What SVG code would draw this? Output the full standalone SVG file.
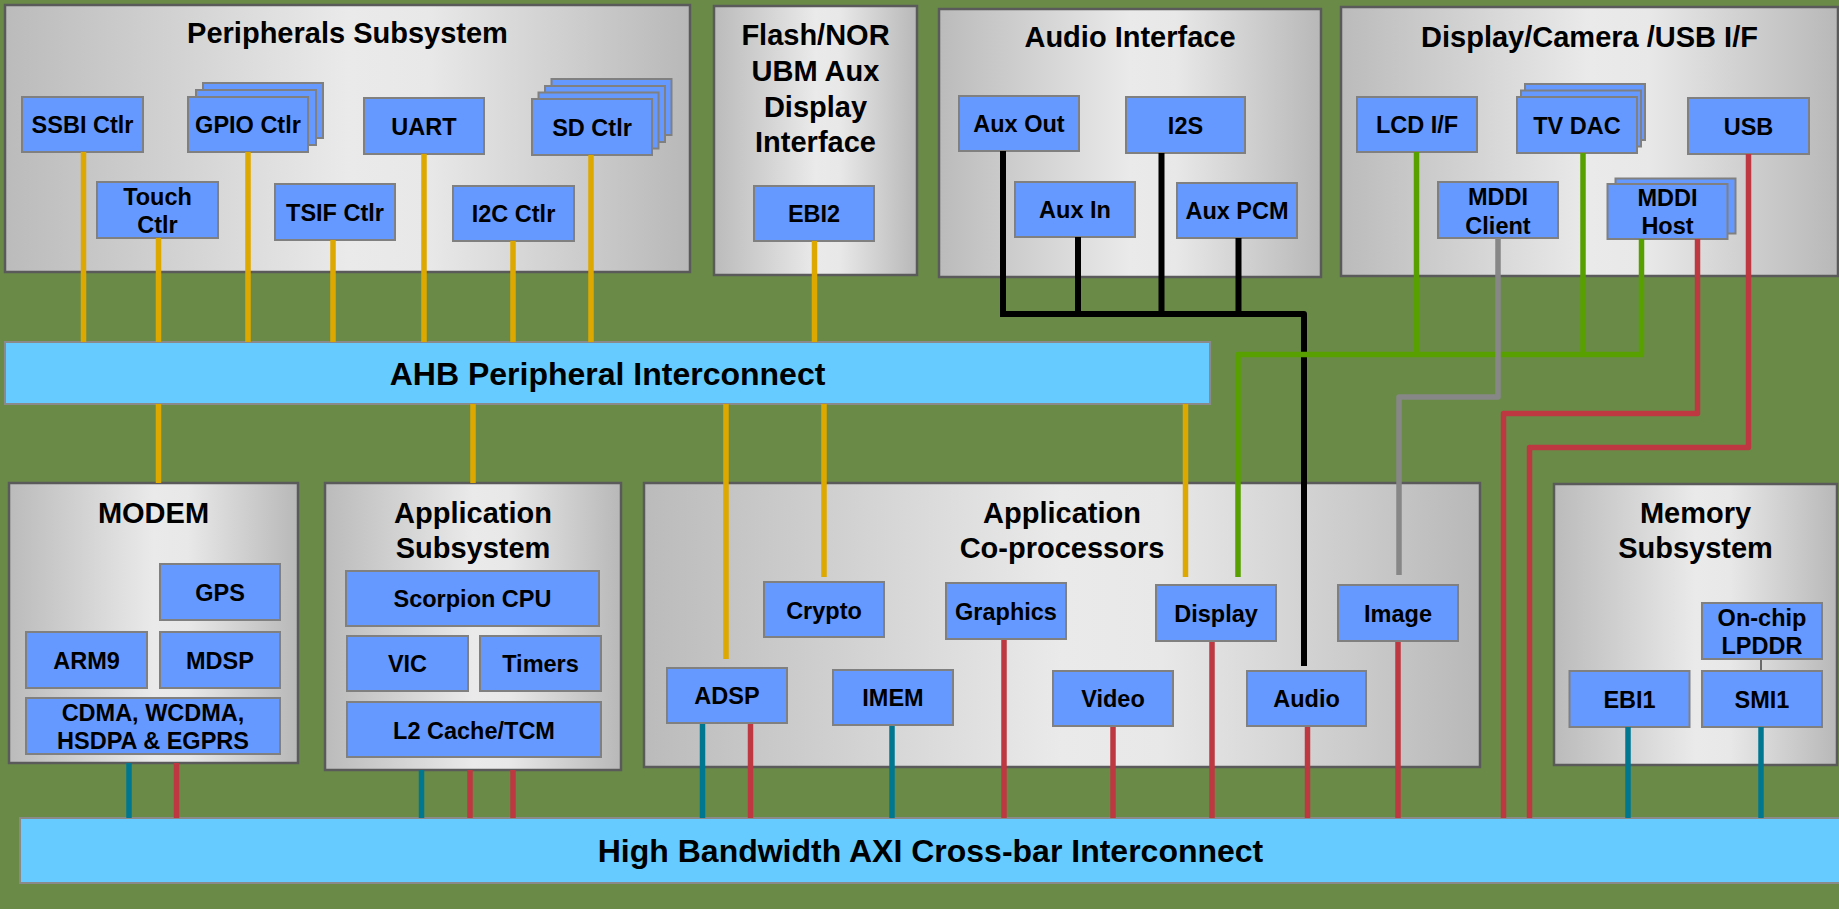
<svg xmlns="http://www.w3.org/2000/svg" width="1839" height="909" viewBox="0 0 1839 909">
  <defs>
    <linearGradient id="panelFill" x1="0" y1="0" x2="1" y2="0">
      <stop offset="0" stop-color="#BBBBBB"/>
      <stop offset="0.25" stop-color="#D2D2D2"/>
      <stop offset="0.5" stop-color="#EAEAEA"/>
      <stop offset="0.62" stop-color="#E8E8E8"/>
      <stop offset="1" stop-color="#B8B8B8"/>
    </linearGradient>
    <style>
      .panel { fill: url(#panelFill); stroke: #5A5A5A; stroke-width: 2.5; }
      .blk { fill: #6699FF; stroke: #808080; stroke-width: 2; }
      .bus { fill: #66CCFF; stroke: #8A8A8A; stroke-width: 2; }
      .title { font-family: "Liberation Sans", Arial, sans-serif; font-weight: bold; font-size: 29px; fill: #000; text-anchor: middle; }
      .bt { font-family: "Liberation Sans", Arial, sans-serif; font-weight: bold; font-size: 23.5px; fill: #000; text-anchor: middle; }
      .bust { font-family: "Liberation Sans", Arial, sans-serif; font-weight: bold; font-size: 32px; fill: #000; text-anchor: middle; }
      .w { fill: none; stroke-width: 5.5; stroke-linejoin: round; }
      .ahb { stroke: #DDA800; }
      .axr { stroke: #BD3840; }
      .axt { stroke: #007791; }
      .aud { stroke: #000000; stroke-width: 6; }
      .grn { stroke: #57A000; }
      .gry { stroke: #878787; }
    </style>
  </defs>

  <!-- board background -->
  <rect x="0" y="0" width="1839" height="909" fill="#6A8B48"/>

  <!-- Peripherals Subsystem -->
  <g id="peripherals">
    <rect class="panel" x="5" y="5" width="685" height="267"/>
    <text class="title" x="347.5" y="43">Peripherals Subsystem</text>
    <g id="ssbi"><rect class="blk" x="22" y="97" width="121" height="55"/><text class="bt" x="82.5" y="133">SSBI Ctlr</text></g>
    <g id="gpio">
      <rect class="blk" x="203" y="83" width="120" height="55"/>
      <rect class="blk" x="196" y="90" width="120" height="55"/>
      <rect class="blk" x="188" y="97" width="120" height="55"/>
      <text class="bt" x="248" y="133">GPIO Ctlr</text>
    </g>
    <g id="uart"><rect class="blk" x="364" y="98" width="120" height="56"/><text class="bt" x="424" y="134.5">UART</text></g>
    <g id="sd">
      <rect class="blk" x="551.5" y="79" width="120" height="56"/>
      <rect class="blk" x="545" y="86" width="120" height="56"/>
      <rect class="blk" x="538.5" y="92.5" width="120" height="56"/>
      <rect class="blk" x="532" y="99" width="120" height="56"/>
      <text class="bt" x="592" y="135.5">SD Ctlr</text>
    </g>
    <g id="touch"><rect class="blk" x="97" y="182" width="121" height="56"/><text class="bt" x="157.5" y="205">Touch</text><text class="bt" x="157.5" y="233">Ctlr</text></g>
    <g id="tsif"><rect class="blk" x="275" y="184" width="120" height="56"/><text class="bt" x="335" y="220.5">TSIF Ctlr</text></g>
    <g id="i2c"><rect class="blk" x="453" y="186" width="121" height="55"/><text class="bt" x="513.5" y="221.5">I2C Ctlr</text></g>
  </g>

  <!-- Flash / NOR -->
  <g id="flash">
    <rect class="panel" x="714" y="6" width="203" height="269"/>
    <text class="title" x="815.5" y="45">Flash/NOR</text>
    <text class="title" x="815.5" y="80.7">UBM Aux</text>
    <text class="title" x="815.5" y="116.7">Display</text>
    <text class="title" x="815.5" y="151.7">Interface</text>
    <g id="ebi2"><rect class="blk" x="754" y="186" width="120" height="55"/><text class="bt" x="814" y="222">EBI2</text></g>
  </g>

  <!-- Audio Interface -->
  <g id="audio-if">
    <rect class="panel" x="939" y="9" width="382" height="268"/>
    <text class="title" x="1130" y="46.7">Audio Interface</text>
    <g id="auxout"><rect class="blk" x="959" y="96" width="120" height="55"/><text class="bt" x="1019" y="132">Aux Out</text></g>
    <g id="i2s"><rect class="blk" x="1126" y="97" width="119" height="56"/><text class="bt" x="1185.5" y="133.5">I2S</text></g>
    <g id="auxin"><rect class="blk" x="1015" y="182" width="120" height="55"/><text class="bt" x="1075" y="218">Aux In</text></g>
    <g id="auxpcm"><rect class="blk" x="1177" y="183" width="120" height="55"/><text class="bt" x="1237" y="219">Aux PCM</text></g>
  </g>

  <!-- Display / Camera / USB interface -->
  <g id="disp-if">
    <rect class="panel" x="1341" y="7" width="497" height="269"/>
    <text class="title" x="1589.5" y="46.7">Display/Camera /USB I/F</text>
    <g id="lcd"><rect class="blk" x="1357" y="97" width="120" height="55"/><text class="bt" x="1417" y="133">LCD I/F</text></g>
    <g id="tvdac">
      <rect class="blk" x="1525" y="84" width="120" height="56"/>
      <rect class="blk" x="1521" y="90.5" width="120" height="56"/>
      <rect class="blk" x="1517" y="97" width="120" height="56"/>
      <text class="bt" x="1577" y="133.5">TV DAC</text>
    </g>
    <g id="usb"><rect class="blk" x="1688" y="98" width="121" height="56"/><text class="bt" x="1748.5" y="134.5">USB</text></g>
    <g id="mddi-client"><rect class="blk" x="1438" y="182" width="120" height="56"/><text class="bt" x="1498" y="205">MDDI</text><text class="bt" x="1498" y="233.5">Client</text></g>
    <g id="mddi-host">
      <rect class="blk" x="1615.5" y="178.5" width="120" height="55"/>
      <rect class="blk" x="1607.5" y="184" width="120" height="55"/>
      <text class="bt" x="1667.5" y="206">MDDI</text><text class="bt" x="1667.5" y="234">Host</text>
    </g>
  </g>

  <!-- AHB bus -->
  <g id="ahb">
    <rect class="bus" x="5" y="342" width="1205" height="62"/>
    <text class="bust" x="607.5" y="385">AHB Peripheral Interconnect</text>
  </g>

  <!-- MODEM -->
  <g id="modem">
    <rect class="panel" x="9" y="483" width="289" height="280"/>
    <text class="title" x="153.5" y="522.5">MODEM</text>
    <g id="gps"><rect class="blk" x="160" y="564" width="120" height="56"/><text class="bt" x="220" y="600.5">GPS</text></g>
    <g id="arm9"><rect class="blk" x="26" y="632" width="121" height="56"/><text class="bt" x="86.5" y="668.5">ARM9</text></g>
    <g id="mdsp"><rect class="blk" x="160" y="632" width="120" height="56"/><text class="bt" x="220" y="668.5">MDSP</text></g>
    <g id="cdma"><rect class="blk" x="26" y="698" width="254" height="56"/><text class="bt" x="153" y="720.5">CDMA, WCDMA,</text><text class="bt" x="153" y="749">HSDPA &amp; EGPRS</text></g>
  </g>

  <!-- Application Subsystem -->
  <g id="app-sub">
    <rect class="panel" x="325" y="483" width="296" height="287"/>
    <text class="title" x="473" y="522.5">Application</text>
    <text class="title" x="473" y="557.5">Subsystem</text>
    <g id="scorpion"><rect class="blk" x="346" y="571" width="253" height="55"/><text class="bt" x="472.5" y="607">Scorpion CPU</text></g>
    <g id="vic"><rect class="blk" x="347" y="636" width="121" height="55"/><text class="bt" x="407.5" y="672">VIC</text></g>
    <g id="timers"><rect class="blk" x="480" y="636" width="121" height="55"/><text class="bt" x="540.5" y="672">Timers</text></g>
    <g id="l2"><rect class="blk" x="347" y="702" width="254" height="55"/><text class="bt" x="474" y="738.5">L2 Cache/TCM</text></g>
  </g>

  <!-- Application Co-processors -->
  <g id="coproc">
    <rect class="panel" x="644" y="483" width="836" height="284"/>
    <text class="title" x="1062" y="522.5">Application</text>
    <text class="title" x="1062" y="557.5">Co-processors</text>
  </g>

  <!-- Memory Subsystem -->
  <g id="memory">
    <rect class="panel" x="1554" y="484" width="283" height="281"/>
    <text class="title" x="1695.5" y="522.5">Memory</text>
    <text class="title" x="1695.5" y="558">Subsystem</text>
    <line x1="1761" y1="659" x2="1761" y2="671" stroke="#444" stroke-width="1.5"/>
    <g id="lpddr"><rect class="blk" x="1702" y="603" width="120" height="56"/><text class="bt" x="1762" y="626">On-chip</text><text class="bt" x="1762" y="654">LPDDR</text></g>
    <g id="ebi1"><rect class="blk" x="1569.5" y="671" width="120" height="56"/><text class="bt" x="1629.5" y="707.5">EBI1</text></g>
    <g id="smi1"><rect class="blk" x="1702" y="671" width="120" height="56"/><text class="bt" x="1762" y="707.5">SMI1</text></g>
  </g>

  <!-- AXI bus -->
  <g id="axi">
    <rect class="bus" x="20" y="818" width="1822" height="65"/>
    <text class="bust" x="930.5" y="862">High Bandwidth AXI Cross-bar Interconnect</text>
  </g>

  <!-- connectors -->
  <g id="connectors">
    <!-- AHB peripheral taps -->
    <g class="w ahb">
      <line x1="83.5" y1="152" x2="83.5" y2="342"/>
      <line x1="158.5" y1="238" x2="158.5" y2="342"/>
      <line x1="248" y1="152" x2="248" y2="342"/>
      <line x1="333" y1="240" x2="333" y2="342"/>
      <line x1="424" y1="154" x2="424" y2="342"/>
      <line x1="513" y1="241" x2="513" y2="342"/>
      <line x1="591" y1="155" x2="591" y2="342"/>
      <line x1="814.5" y1="241" x2="814.5" y2="342"/>
      <line x1="158.5" y1="404" x2="158.5" y2="483"/>
      <line x1="473" y1="404" x2="473" y2="483"/>
      <line x1="726" y1="404" x2="726" y2="659"/>
      <line x1="824" y1="404" x2="824" y2="577"/>
      <line x1="1185.5" y1="404" x2="1185.5" y2="577"/>
    </g>
    <!-- audio path -->
    <g class="w aud">
      <line x1="1003" y1="151" x2="1003" y2="314"/>
      <line x1="1078" y1="237" x2="1078" y2="314"/>
      <line x1="1161.5" y1="153" x2="1161.5" y2="314"/>
      <line x1="1238.5" y1="238" x2="1238.5" y2="314"/>
      <polyline points="1000,314 1304,314 1304,666"/>
    </g>
    <!-- display path -->
    <g class="w grn">
      <line x1="1416.5" y1="152" x2="1416.5" y2="354.5"/>
      <line x1="1583" y1="153" x2="1583" y2="354.5"/>
      <line x1="1641.5" y1="239" x2="1641.5" y2="354.5"/>
      <polyline points="1644,354.5 1238,354.5 1238,577"/>
    </g>
    <!-- camera path -->
    <polyline class="w gry" points="1498,238 1498,397 1399,397 1399,575"/>
    <!-- AXI masters / slaves -->
    <g class="w axr">
      <polyline points="1697.5,239 1697.5,413.5 1503.5,413.5 1503.5,818"/>
      <polyline points="1748.5,154 1748.5,447.5 1529.5,447.5 1529.5,818"/>
      <line x1="176.5" y1="763" x2="176.5" y2="818"/>
      <line x1="470" y1="770" x2="470" y2="818"/>
      <line x1="513" y1="770" x2="513" y2="818"/>
      <line x1="750.5" y1="723" x2="750.5" y2="818"/>
      <line x1="1004" y1="639" x2="1004" y2="818"/>
      <line x1="1113" y1="726" x2="1113" y2="818"/>
      <line x1="1212" y1="641" x2="1212" y2="818"/>
      <line x1="1307.5" y1="726" x2="1307.5" y2="818"/>
      <line x1="1398" y1="641" x2="1398" y2="818"/>
    </g>
    <g class="w axt">
      <line x1="129" y1="763" x2="129" y2="818"/>
      <line x1="421.5" y1="770" x2="421.5" y2="818"/>
      <line x1="702.5" y1="723" x2="702.5" y2="818"/>
      <line x1="892" y1="725" x2="892" y2="818"/>
      <line x1="1628" y1="727" x2="1628" y2="818"/>
      <line x1="1761" y1="727" x2="1761" y2="818"/>
    </g>
  </g>

  <!-- co-processor blocks -->
  <g id="crypto"><rect class="blk" x="764" y="582" width="120" height="55"/><text class="bt" x="824" y="618.5">Crypto</text></g>
  <g id="graphics"><rect class="blk" x="946" y="583" width="120" height="56"/><text class="bt" x="1006" y="619.5">Graphics</text></g>
  <g id="display"><rect class="blk" x="1156" y="585" width="120" height="56"/><text class="bt" x="1216" y="621.5">Display</text></g>
  <g id="image"><rect class="blk" x="1338" y="585" width="120" height="56"/><text class="bt" x="1398" y="621.5">Image</text></g>
  <g id="adsp"><rect class="blk" x="667" y="668" width="120" height="55"/><text class="bt" x="727" y="704">ADSP</text></g>
  <g id="imem"><rect class="blk" x="833" y="670" width="120" height="55"/><text class="bt" x="893" y="706">IMEM</text></g>
  <g id="video"><rect class="blk" x="1053" y="671" width="120" height="55"/><text class="bt" x="1113" y="707">Video</text></g>
  <g id="audio"><rect class="blk" x="1247" y="671" width="119" height="55"/><text class="bt" x="1306.5" y="707">Audio</text></g>
</svg>
